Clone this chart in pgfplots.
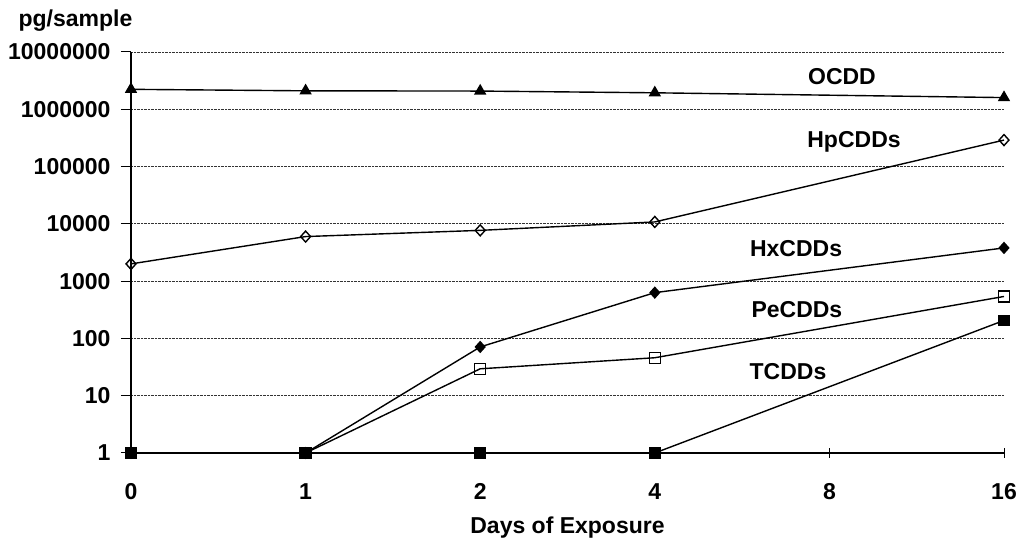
\documentclass[border=0pt]{standalone}
\usepackage{pgfplots}
\pgfplotsset{compat=1.18}
\usepackage{fontspec}
\setmainfont{Liberation Sans}
\begin{document}
\begin{tikzpicture}[font=\fontsize{23}{27}\selectfont\bfseries]
\path[use as bounding box] (0,0) rectangle (1019pt,540pt);
\begin{axis}[at={(131pt,87pt)}, anchor=south west, scale only axis,
  width=873pt, height=401pt,
  ymode=log, log basis y=10, ymin=1, ymax=1e7, xmin=0, xmax=5,
  axis x line*=bottom, axis y line*=left,
  axis line style={-, line width=1.3pt},
  xtick={0,1,2,3,4,5}, xticklabels={0,1,2,4,8,16},
  ytick={1,10,100,1000,10000,100000,1000000,10000000},
  yticklabels={1,10,100,1000,10000,100000,1000000,10000000},
  minor ytick={},
  /pgf/number format/assume math mode=true,
  tick label style={font=\fontsize{23}{27}\selectfont\bfseries},
  ymajorgrids, grid style={densely dotted, line width=0.9pt, black!80},
  tick align=center, major tick length=10pt,
  tick style={black, line width=1pt},
  y tick style={xshift=-5pt},
  xticklabel style={anchor=base, yshift=-42pt},
  yticklabel style={anchor=east, xshift=-12pt},
  xlabel={Days of Exposure},
  every axis x label/.style={at={(axis description cs:0.5,0)}, anchor=base, yshift=-81pt, font=\fontsize{23}{27}\selectfont\bfseries},
  ylabel={pg/sample},
  every axis y label/.style={at={(axis description cs:0,1)}, anchor=base west, xshift=-116pt, yshift=25pt, font=\fontsize{23}{27}\selectfont\bfseries},
  clip=false,
  every axis plot/.append style={black, line width=1.4pt},
  every mark/.append style={solid, line width=1pt},
]
\addplot[mark=triangle*, mark size=5.8pt] coordinates {(0,2.23e6)(1,2.1e6)(2,2.08e6)(3,1.94e6)(5,1.6e6)};
\addplot[mark=diamond, mark size=5.5pt, mark options={fill=white, xscale=1.2}] coordinates {(0,2000)(1,6000)(2,7700)(3,10800)(5,2.9e5)};
\addplot[mark=square, mark size=5.5pt, mark options={fill=white}] coordinates {(0,1)(1,1)(2,29.5)(3,46)(5,540)};
\addplot[mark=diamond*, mark size=5.2pt, mark options={xscale=1.2}] coordinates {(0,1)(1,1)(2,71)(3,630)(5,3800)};
\addplot[mark=square*, mark size=5.2pt] coordinates {(0,1)(1,1)(2,1)(3,1)(5,206)};
\node[anchor=base] at (axis cs:4.072,2.72e6) {OCDD};
\node[anchor=base] at (axis cs:4.141,2.15e5) {HpCDDs};
\node[anchor=base] at (axis cs:3.809,2670) {HxCDDs};
\node[anchor=base] at (axis cs:3.814,229) {PeCDDs};
\node[anchor=base] at (axis cs:3.763,18.9) {TCDDs};
\end{axis}
\end{tikzpicture}
\end{document}
